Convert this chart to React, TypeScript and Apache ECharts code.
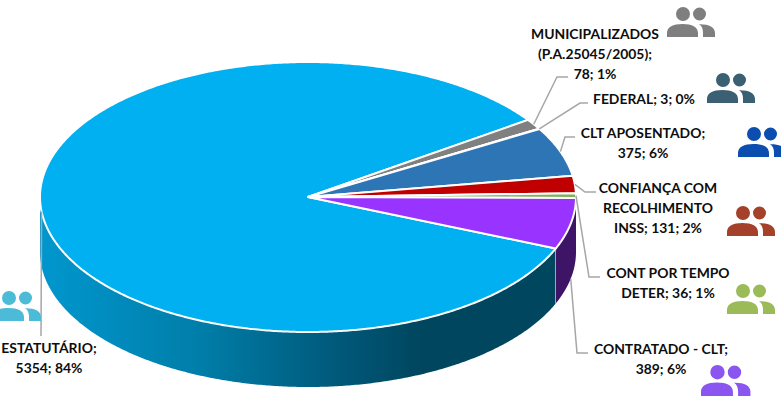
import React, { useEffect, useRef } from "react";
import * as echarts from "echarts";

// ---- data ----
const categories = [
  "ESTATUTÁRIO",
  "MUNICIPALIZADOS (P.A.25045/2005)",
  "FEDERAL",
  "CLT APOSENTADO",
  "CONFIANÇA COM RECOLHIMENTO INSS",
  "CONT POR TEMPO DETER",
  "CONTRATADO - CLT",
];
const values = [5354, 78, 3, 375, 131, 36, 389];
const labelTexts = [
  "ESTATUTÁRIO;\n5354; 84%",
  "MUNICIPALIZADOS\n(P.A.25045/2005);\n78; 1%",
  "FEDERAL; 3; 0%",
  "CLT APOSENTADO;\n375; 6%",
  "CONFIANÇA COM\nRECOLHIMENTO\nINSS; 131; 2%",
  "CONT POR TEMPO\nDETER; 36; 1%",
  "CONTRATADO - CLT;\n389; 6%",
];

// ---- styles and layout ----
const sliceColors = ["#00B0F0", "#808080", "#2F5F7F", "#2E75B6", "#C00000", "#7DB356", "#9933FF"];
const iconColors = ["#4BBBD8", "#7F7F7F", "#3B6074", "#0B4EB0", "#A5402A", "#9BBB59", "#8B55F0"];
const CX = 308;
const CY = 197;
const RX = 268;
const RY = 135;
const DEPTH = 55;
const START_ANGLE = -22.4;
// label centre, elbow, end of the leader, icon left/top/scale
const labelPos = [
  [49, 357], [595, 53], [644, 98], [643, 142], [658, 207], [668, 282], [661, 358],
];
const elbows = [
  [[41, 336]],
  [[557, 77], [568, 77]],
  [[580, 103], [588, 103]],
  [[565, 137], [575, 137]],
  [[585, 192], [596, 192]],
  [[589, 277], [600, 277]],
  [[577, 353], [588, 353]],
];
const iconPos = [
  [-7, 291, 1], [667, 7, 1], [707, 73, 1], [738, 127, 1], [727, 206, 1], [727, 284, 1], [701, 365, 1.03],
];

const PEOPLE_PATH =
  "M9 7a7 7 0 1 0 14 0a7 7 0 1 0 -14 0Z" +
  "M26 7a6.5 6.5 0 1 0 13 0a6.5 6.5 0 1 0 -13 0Z" +
  "M0 30V26C0 20 6 17 15.5 17C25 17 31 20 31 26V30Z" +
  "M32 17.2C42 17 48 20 48 26V30H36V26C36 22 35 19 32 17.2Z";
echarts.graphic.registerShape("people", echarts.graphic.extendPath(PEOPLE_PATH, {}));

const total = values.reduce((a, b) => a + b, 0);
const spans: [number, number][] = [];
{
  let a = START_ANGLE;
  values.forEach((v) => {
    const b = a - (v / total) * 360;
    spans.push([a, b]);
    a = b;
  });
}
const pt = (deg: number, dy = 0): number[] => {
  const r = (deg * Math.PI) / 180;
  return [CX + RX * Math.cos(r), CY - RY * Math.sin(r) + dy];
};
const arc = (from: number, to: number, dy = 0): number[][] => {
  const n = Math.max(2, Math.ceil(Math.abs(from - to) / 0.5));
  const out: number[][] = [];
  for (let i = 0; i <= n; i++) out.push(pt(from + ((to - from) * i) / n, dy));
  return out;
};
// the parts of a slice's rim that face the viewer
const frontParts = (a: number, b: number): [number, number][] => {
  const res: [number, number][] = [];
  for (const k of [0, -360]) {
    const hi = Math.min(a, k);
    const lo = Math.max(b, k - 180);
    if (hi > lo) res.push([hi, lo]);
  }
  return res;
};

const wallGradient = new echarts.graphic.LinearGradient(
  40, 0, 420, 0,
  [
    { offset: 0, color: "#0097CE" },
    { offset: 0.42, color: "#007EA9" },
    { offset: 0.76, color: "#005B7D" },
    { offset: 1, color: "#00465F" },
  ],
  true as any
);
const wallFills: any[] = [wallGradient, "#555", "#2A4C63", "#1F4F7B", "#800000", "#557A3A", "#3D1466"];

const seriesData = categories.map((name, i) => ({ name, value: values[i] }));

const renderWall = (params: any) => {
  const i = params.dataIndex;
  const children: any[] = [];
  frontParts(spans[i][0], spans[i][1]).forEach(([hi, lo]) => {
    children.push({
      type: "polygon",
      shape: { points: [...arc(hi, lo), ...arc(lo, hi, DEPTH)] },
      style: { fill: wallFills[i] },
    });
    if (hi < 0 && hi > -180) {
      const t = pt(hi);
      children.push({
        type: "line",
        shape: { x1: t[0], y1: t[1], x2: t[0], y2: t[1] + DEPTH },
        style: { stroke: "#DCE6EA", lineWidth: 1.2 },
      });
    }
  });
  return { type: "group", children };
};

const renderTop = (params: any) => {
  const i = params.dataIndex;
  return {
    type: "polygon",
    shape: { points: [[CX, CY], ...arc(spans[i][0], spans[i][1])] },
    style: { fill: sliceColors[i], stroke: "#FFFFFF", lineWidth: 2, lineJoin: "round" },
  };
};

const renderLabel = (params: any) => {
  const i = params.dataIndex;
  const mid = (spans[i][0] + spans[i][1]) / 2;
  // the leader of the front-right slice leaves from the foot of its wall
  const anchor = i === 6 ? pt(mid, DEPTH) : pt(mid);
  const [ix, iy, is] = iconPos[i];
  return {
    type: "group",
    children: [
      {
        type: "polyline",
        shape: { points: [anchor, ...elbows[i]] },
        style: { stroke: "#A6A6A6", lineWidth: 1.5, fill: "none" },
      },
      {
        type: "people",
        x: ix,
        y: iy,
        scaleX: is,
        scaleY: is,
        style: { fill: iconColors[i] },
      },
      {
        type: "text",
        x: labelPos[i][0],
        y: labelPos[i][1],
        style: {
          text: labelTexts[i],
          align: "center",
          verticalAlign: "middle",
          fill: "#0D0D0D",
          fontFamily: "Lato",
          fontWeight: "bold",
          fontSize: 13.9,
          lineHeight: 20,
        },
      },
    ],
  };
};

export default function App() {
  const ref = useRef<HTMLDivElement>(null);
  useEffect(() => {
    const chart = echarts.init(ref.current!, undefined, { renderer: "svg" });
    chart.setOption({
      animation: false,
      backgroundColor: "#FFFFFF",
      series: [
        { type: "custom", coordinateSystem: "none", silent: true, z: 1, renderItem: renderWall, data: seriesData },
        { type: "custom", coordinateSystem: "none", silent: true, z: 2, renderItem: renderTop, data: seriesData },
        { type: "custom", coordinateSystem: "none", silent: true, z: 3, renderItem: renderLabel, data: seriesData },
      ],
    });
    return () => chart.dispose();
  }, []);
  return (
    <div
      ref={ref}
      style={{ position: "fixed", left: 0, top: 0, width: 781, height: 401, overflow: "hidden" }}
    />
  );
}
